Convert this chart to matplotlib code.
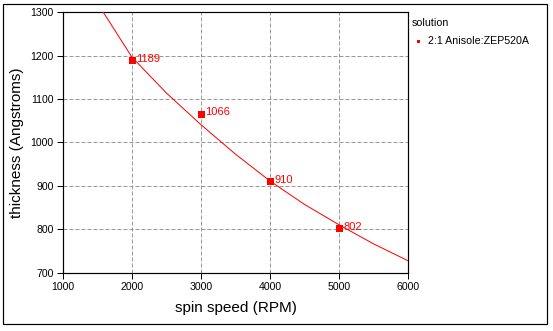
import matplotlib
matplotlib.use("Agg")
import matplotlib.pyplot as plt
from matplotlib.lines import Line2D
from matplotlib.patches import Rectangle

# measured film thickness vs spin speed
spin_rpm = [2000, 3000, 4000, 5000]
thickness = [1189, 1066, 910, 802]

# spin curve (thickness trend across the speed range)
curve_rpm = [1500, 2000, 2500, 3000, 3500, 4000, 4500, 5000, 5500, 6000]
curve_thk = [1322, 1197, 1114, 1041, 973, 911, 857, 810, 766, 727]

x_ticks = [1000, 2000, 3000, 4000, 5000, 6000]
y_ticks = [700, 800, 900, 1000, 1100, 1200, 1300]

series_name = "2:1 Anisole:ZEP520A"
legend_title = "solution"

plt.rcParams["font.family"] = ["Liberation Sans", "DejaVu Sans"]

W, H = 553, 331
fig = plt.figure(figsize=(W / 100, H / 100), dpi=100)

# pixel-based layout helpers
def fx(px):
    return px / W

def fy(py):
    return 1 - py / H

ax_l, ax_r, ax_t, ax_b = 62.7, 408.3, 12.3, 272.6
ax = fig.add_axes([fx(ax_l), fy(ax_b), (ax_r - ax_l) / W, (ax_b - ax_t) / H])

px = 0.72  # one pixel in points

ax.plot(curve_rpm, curve_thk, color="#ff0000", lw=1.0 * px, zorder=3)
ax.plot(spin_rpm, thickness, linestyle="none", marker="s", markersize=7 * px,
        color="#ff0000", markeredgewidth=0, zorder=4)
for xv, yv in zip(spin_rpm, thickness):
    ax.annotate(str(yv), (xv, yv), xytext=(4, 1.5), textcoords="offset pixels",
                ha="left", va="center", color="#ff0000", fontsize=8, zorder=5)

ax.set_xlim(1000, 6000)
ax.set_ylim(700, 1300)
ax.set_xticks(x_ticks)
ax.set_yticks(y_ticks)
ax.tick_params(axis="both", direction="out", length=6 * px, width=1 * px,
               labelsize=7.6, pad=3 * px, colors="black")
ax.grid(True, color="#999999", linestyle=(0, (4, 2)), linewidth=1 * px)
ax.set_axisbelow(True)
for s in ax.spines.values():
    s.set_linewidth(1.2 * px)
    s.set_color("black")

# axis titles
fig.text(fx((ax_l + ax_r) / 2), fy(308), "spin speed (RPM)", ha="center",
         va="center", fontsize=11)
fig.text(fx(17), fy((ax_t + ax_b) / 2), "thickness (Angstroms)", ha="center",
         va="center", rotation=90, fontsize=11)

# legend block
fig.text(fx(411.7), fy(23.3), legend_title, ha="left", va="center", fontsize=7.7)
fig.add_artist(Line2D([fx(417.7)], [fy(41.3)], transform=fig.transFigure,
                      marker="s", markersize=3 * px, color="#ff0000",
                      markeredgewidth=0, linestyle="none"))
fig.text(fx(427.7), fy(41.3), series_name, ha="left", va="center", fontsize=7.7)

# outer frame
fig.add_artist(Rectangle((fx(3), fy(324)), fx(547) - fx(3), fy(4) - fy(324),
                         transform=fig.transFigure, fill=False,
                         edgecolor="black", linewidth=1.2 * px))

fig.savefig("out.png", dpi=100)
